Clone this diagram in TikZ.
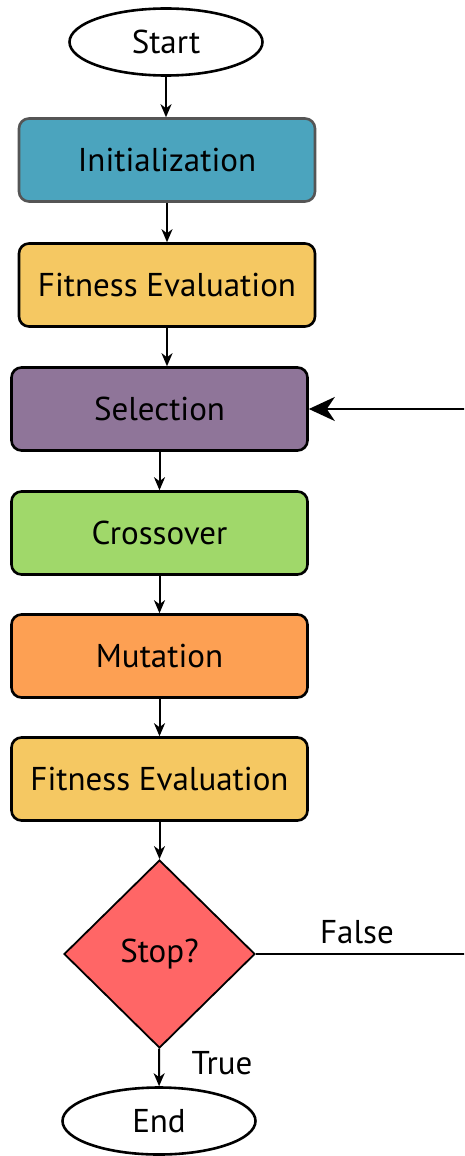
\documentclass[tikz,border=0pt]{standalone}
\usepackage{fontspec}
\setmainfont{PT Sans}
\usetikzlibrary{shapes.geometric,arrows.meta}
\definecolor{cinit}{RGB}{75,164,190}
\definecolor{cfit}{RGB}{245,200,98}
\definecolor{csel}{RGB}{143,117,153}
\definecolor{ccross}{RGB}{160,216,106}
\definecolor{cmut}{RGB}{253,160,83}
\definecolor{cstop}{RGB}{255,102,102}
\definecolor{cgrayb}{RGB}{85,85,85}
\begin{document}
\begin{tikzpicture}[x=1pt,y={(0pt,-1pt)},
  txt/.style={font=\fontsize{33}{38}\selectfont},
  term/.style={ellipse,draw=black,line width=2.6pt,fill=white,minimum width=193pt,minimum height=67pt,inner sep=0pt,txt},
  procbox/.style={rectangle,rounded corners=10pt,draw=black,line width=2.6pt,minimum width=296pt,minimum height=83pt,inner sep=0pt,txt},
  dec/.style={diamond,draw=black,line width=1.8pt,fill=cstop,minimum width=191pt,minimum height=188pt,inner sep=0pt,txt},
  conn/.style={line width=2pt,-{Stealth[length=13pt,width=11pt,inset=4pt]}},
  bigarrow/.style={line width=2.6pt,-{Stealth[length=26pt,width=24pt,inset=8pt]}},
  lbl/.style={txt}]
\useasboundingbox (0,0) rectangle (464,1156);
\clip (0,0) rectangle (464,1156);
\node[term] (start) at (166,42) {Start};
\node[procbox,fill=cinit,draw=cgrayb] (init) at (167,160) {Initialization};
\node[procbox,fill=cfit] (fit1) at (167,285) {Fitness Evaluation};
\node[procbox,fill=csel] (sel) at (159.5,409) {Selection};
\node[procbox,fill=ccross] (cross) at (159.5,533) {Crossover};
\node[procbox,fill=cmut] (mut) at (159.5,656) {Mutation};
\node[procbox,fill=cfit] (fit2) at (159.5,779) {Fitness Evaluation};
\node[dec] (stop) at (159.5,954) {Stop?};
\node[term] (end) at (159,1121) {End};
\coordinate (fr) at (470,954);
\coordinate (sr) at (470,409);
\draw[conn] (start) -- (start.south |- init.north);
\draw[conn] (init) -- (init.south |- fit1.north);
\draw[conn] (fit1.south) -- (fit1.south |- sel.north);
\draw[conn] (sel) -- (cross);
\draw[conn] (cross) -- (mut);
\draw[conn] (mut) -- (fit2);
\draw[conn] (fit2) -- (stop);
\draw[conn] (stop) -- (end);
\draw[line width=2.6pt] (stop.east) -- (fr) -- (sr);
\draw[bigarrow] (sr) -- (sel.east);
\node[lbl] (false) at (357,932) {False};
\node[lbl] (true) at (222,1063) {True};
\end{tikzpicture}
\end{document}
